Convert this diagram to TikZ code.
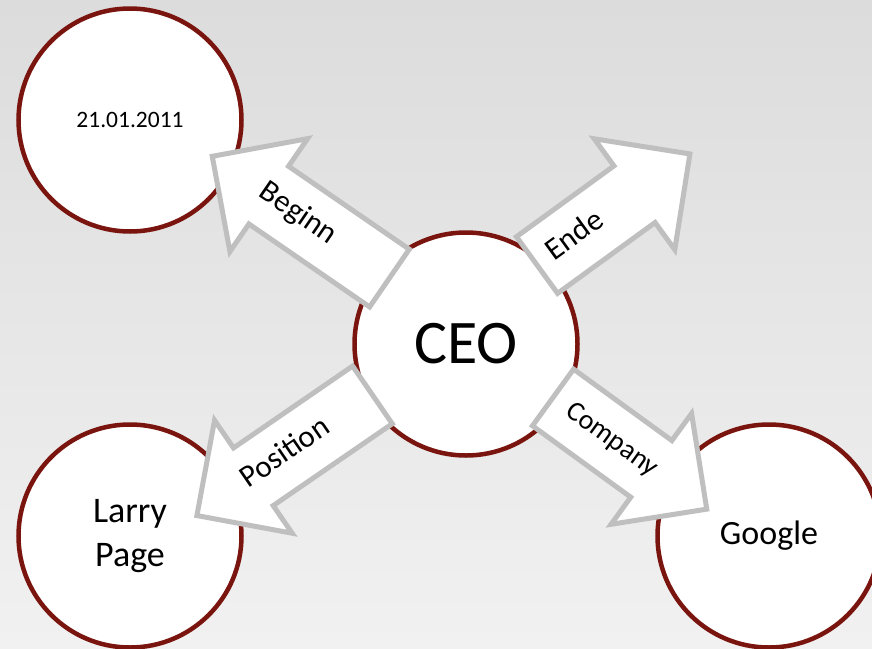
\documentclass[tikz,border=0pt]{standalone}
\usepackage{fontspec}
\setmainfont{Carlito}
\usetikzlibrary{shapes.arrows}
\definecolor{ringred}{RGB}{122,20,14}
\definecolor{arrowgray}{RGB}{191,191,191}
\definecolor{bgtop}{RGB}{220,220,220}
\definecolor{bgbottom}{RGB}{241,241,241}
\tikzset{
  topic/.style={circle, draw=ringred, line width=4.5pt, fill=white,
    minimum size=223pt, inner sep=0pt, align=center},
  relation/.style={single arrow, draw=arrowgray, line width=5pt, fill=white,
    single arrow head extend=33.5pt, single arrow tip angle=90,
    inner xsep=2pt, inner ysep=19.5pt, text height=20pt, text depth=6pt,
    font=\fontsize{31}{33}\selectfont},
}
\begin{document}
\begin{tikzpicture}[x=1pt,y=-1pt]
	\shade[top color=bgtop, bottom color=bgbottom] (0,0) rectangle (872,648);
	\useasboundingbox (0,0) rectangle (872,648);
	\node (CEO)    at (466,344)	[topic, font=\fontsize{62}{70}\selectfont]	{CEO};
	\node (date)   at (130,120)	[topic, font=\fontsize{23.5}{28}\selectfont]	{21.01.2011};
	\node (larry)  at (130,536)	[topic, font=\fontsize{36}{44}\selectfont]	{Larry\\Page};
	\node (google) at (769,536)	[topic, font=\fontsize{34}{40}\selectfont]	{Google};
	% trailing space moves the label along the shaft
	\node (beginn)   at (391.5,279.5)	[relation, anchor=tail, shape border rotate=180, rotate=-34.5, minimum height=215pt]	{Beginn\hspace*{44pt}};
	\node (ende)     at (535,266.5)	[relation, anchor=tail, rotate=36, minimum height=189pt]	{Ende\hspace*{58pt}};
	\node (position) at (374.5,393.5)	[relation, anchor=tail, shape border rotate=180, rotate=34.5, minimum height=213pt]	{Position\hspace*{32pt}};
	\node (company)  at (551,396)	[relation, anchor=tail, rotate=-36, minimum height=190pt, font=\fontsize{28}{30}\selectfont]	{Company\hspace*{10pt}};
\end{tikzpicture}
\end{document}
